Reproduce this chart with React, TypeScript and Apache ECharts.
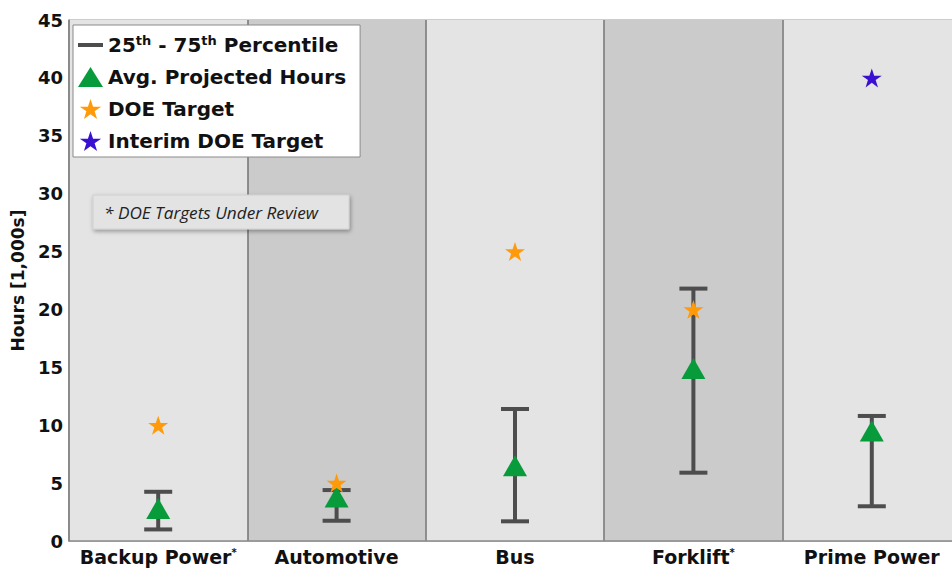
import React, { useEffect, useRef } from "react";
import * as echarts from "echarts";

const categories = ["Backup Power", "Automotive", "Bus", "Forklift", "Prime Power"];
const starredCategories = ["Backup Power", "Forklift"];
const pctLow = [1.0, 1.75, 1.7, 5.9, 3.0];
const pctHigh = [4.25, 4.4, 11.4, 21.8, 10.8];
const avgHours = [2.8, 3.8, 6.5, 14.9, 9.5];
const doeTarget: (number | string)[] = [10, 5, 25, 20, "-"];
const interimTarget: (number | string)[] = ["-", "-", "-", "-", 40];
const yTicks = { min: 0, max: 45, interval: 5 };

const NAME_PCT = "25th - 75th Percentile";
const NAME_AVG = "Avg. Projected Hours";
const NAME_DOE = "DOE Target";
const NAME_INT = "Interim DOE Target";

const STAR =
  "path://M50,0 L61.8,35.1 L98.9,35.1 L68.9,56.7 L80.3,91.9 L50,70 L19.7,91.9 L31.1,56.7 L1.1,35.1 L38.2,35.1 Z";
const LINE_ICON = "path://M0,0 H25 V4 H0 Z";
const FONT = "'DejaVu Sans', sans-serif";

export default function App() {
  const ref = useRef<HTMLDivElement>(null);
  useEffect(() => {
    if (!ref.current) return;
    const chart = echarts.init(ref.current, null, { renderer: "svg" });
    const errData = categories.map((_, i) => [i, pctLow[i], pctHigh[i]]);
    chart.setOption({
      animation: false,
      textStyle: { fontFamily: FONT },
      grid: {
        left: 69,
        top: 20,
        right: -9,
        bottom: 28,
        outerBoundsMode: "none",
        containLabel: false,
        show: true,
        borderColor: "#9a9a9a",
        borderWidth: 1,
        backgroundColor: "transparent",
      },
      legend: {
        orient: "vertical",
        left: 73,
        top: 25,
        backgroundColor: "#ffffff",
        borderColor: "#8a8a8a",
        borderWidth: 1,
        borderRadius: 0,
        padding: [9, 14, 6, 5],
        itemWidth: 25,
        itemHeight: 20,
        itemGap: 12,
        selectedMode: false,
        data: [
          { name: NAME_PCT, icon: LINE_ICON },
          { name: NAME_AVG, icon: "triangle" },
          { name: NAME_DOE, icon: STAR },
          { name: NAME_INT, icon: STAR },
        ],
        formatter: (name: string) =>
          name === NAME_PCT
            ? "{b|25}{s|th}{b| - 75}{s|th}{b| Percentile}"
            : "{b|" + name + "}",
        textStyle: {
          color: "#111",
          rich: {
            b: { fontSize: 20, fontWeight: "bold", fontFamily: FONT, color: "#111", lineHeight: 22 },
            s: { fontSize: 13, fontWeight: "bold", fontFamily: FONT, color: "#111", verticalAlign: "top", lineHeight: 11 },
          },
        },
      },
      xAxis: {
        type: "category",
        data: categories,
        boundaryGap: true,
        axisTick: { show: false },
        axisLine: { lineStyle: { color: "#8a8a8a", width: 1.5 } },
        splitLine: { show: true, lineStyle: { color: "#747474", width: 1.5 } },
        splitArea: { show: true, areaStyle: { color: ["#e4e4e4", "#cbcbcb"] } },
        axisLabel: {
          margin: 6,
          interval: 0,
          formatter: (v: string) =>
            starredCategories.includes(v) ? "{n|" + v + "}{s|*}" : "{n|" + v + "}",
          rich: {
            n: { fontSize: 19, fontWeight: "bold", fontFamily: FONT, color: "#111" },
            s: { fontSize: 10, fontWeight: "bold", fontFamily: FONT, color: "#111", verticalAlign: "top" },
          },
        },
      },
      yAxis: {
        type: "value",
        min: yTicks.min,
        max: yTicks.max,
        interval: yTicks.interval,
        name: "Hours [1,000s]",
        nameLocation: "middle",
        nameRotate: 90,
        nameGap: 43,
        nameTextStyle: { fontSize: 17, fontWeight: "bold", color: "#111", fontFamily: FONT },
        axisLine: { show: true, lineStyle: { color: "#8a8a8a", width: 1.5 } },
        axisTick: { show: false },
        splitLine: { show: false },
        axisLabel: { fontSize: 18, fontWeight: "bold", color: "#111", margin: 6, fontFamily: FONT },
      },
      series: [
        {
          name: NAME_PCT,
          type: "custom",
          itemStyle: { color: "#4d4d4d" },
          data: errData,
          encode: { x: 0, y: [1, 2] },
          z: 2,
          renderItem: (params: any, api: any) => {
            const i = api.value(0);
            const lo = api.coord([i, api.value(1)]);
            const hi = api.coord([i, api.value(2)]);
            const hw = 14;
            const st = { stroke: "#4d4d4d", lineWidth: 4 };
            return {
              type: "group",
              children: [
                { type: "line", shape: { x1: lo[0], y1: lo[1], x2: hi[0], y2: hi[1] }, style: st },
                { type: "line", shape: { x1: lo[0] - hw, y1: lo[1], x2: lo[0] + hw, y2: lo[1] }, style: st },
                { type: "line", shape: { x1: hi[0] - hw, y1: hi[1], x2: hi[0] + hw, y2: hi[1] }, style: st },
              ],
            };
          },
        },
        {
          name: NAME_AVG,
          type: "scatter",
          data: avgHours,
          symbol: "triangle",
          symbolSize: [24, 21],
          itemStyle: { color: "#079b3b", opacity: 1 },
          z: 3,
        },
        {
          name: NAME_DOE,
          type: "scatter",
          data: doeTarget,
          symbol: STAR,
          symbolSize: [20, 19],
          itemStyle: { color: "#ff9a0a", opacity: 1 },
          z: 4,
        },
        {
          name: NAME_INT,
          type: "scatter",
          data: interimTarget,
          symbol: STAR,
          symbolSize: [20, 19],
          itemStyle: { color: "#3a10d0", opacity: 1 },
          z: 4,
        },
      ],
      graphic: [
        {
          type: "rect",
          z: 100,
          shape: { x: 93, y: 195, width: 256, height: 34 },
          style: {
            fill: "#e3e3e3",
            stroke: "#d0d0d0",
            lineWidth: 1,
            shadowBlur: 4,
            shadowOffsetX: 1,
            shadowOffsetY: 2,
            shadowColor: "rgba(0,0,0,0.35)",
          },
        },
        {
          type: "text",
          z: 101,
          x: 104,
          y: 212,
          style: {
            text: "* DOE Targets Under Review",
            font: "italic 17.2px 'Open Sans', sans-serif",
            fill: "#222",
            verticalAlign: "middle",
          },
        },
      ],
    });
    return () => chart.dispose();
  }, []);
  return (
    <div
      ref={ref}
      style={{ position: "absolute", left: 0, top: 0, width: 952, height: 569, background: "#fff" }}
    />
  );
}
